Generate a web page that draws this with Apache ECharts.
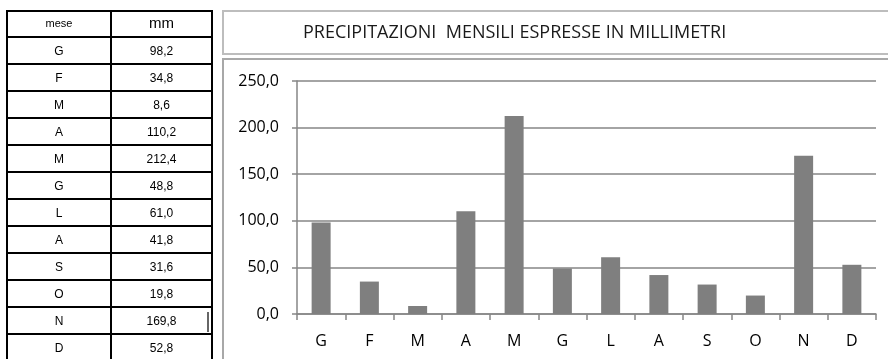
<!DOCTYPE html>
<html>
<head>
<meta charset="utf-8">
<script src="https://cdn.jsdelivr.net/npm/echarts@6/dist/echarts.min.js"></script>
<style>
  html, body { margin: 0; padding: 0; background: #fff; }
  #chart { width: 888px; height: 359px; }
</style>
</head>
<body>
<div id="chart"></div>
<script>
// Monthly rainfall (mm)
const mesi = ['G', 'F', 'M', 'A', 'M', 'G', 'L', 'A', 'S', 'O', 'N', 'D'];
const mm = [98.2, 34.8, 8.6, 110.2, 212.4, 48.8, 61.0, 41.8, 31.6, 19.8, 169.8, 52.8];
const tableHeader = ['mese', 'mm'];
const chartTitle = 'PRECIPITAZIONI  MENSILI ESPRESSE IN MILLIMETRI';

const fmt = v => v.toFixed(1).replace('.', ',');

// Spreadsheet-style table on the left
const tX0 = 7, tX1 = 111, tX2 = 212, tY0 = 11, headH = 26, rowH = 27;
const tableEls = [];
const lastY = tY0 + headH + mesi.length * rowH;
// horizontal rules
for (let i = 0; i <= mesi.length + 1; i++) {
  const y = i === 0 ? tY0 : tY0 + headH + (i - 1) * rowH;
  tableEls.push({ type: 'line', shape: { x1: tX0, y1: y, x2: tX2, y2: y },
    style: { stroke: '#000', lineWidth: 2 } });
}
// vertical rules
[tX0, tX1, tX2].forEach(x => tableEls.push({ type: 'line',
  shape: { x1: x, y1: tY0 - 1, x2: x, y2: lastY + 2 }, style: { stroke: '#000', lineWidth: 2 } }));
// header texts
tableEls.push({ type: 'text', x: (tX0 + tX1) / 2, y: tY0 + headH / 2,
  style: { text: tableHeader[0], fontFamily: 'Liberation Sans', fontSize: 11, fill: '#000', align: 'center', verticalAlign: 'middle' } });
tableEls.push({ type: 'text', x: (tX1 + tX2) / 2, y: tY0 + headH / 2,
  style: { text: tableHeader[1], fontFamily: 'Liberation Sans', fontSize: 15, fill: '#000', align: 'center', verticalAlign: 'middle' } });
// body texts
mesi.forEach((m, i) => {
  const cy = tY0 + headH + i * rowH + rowH / 2 + 1;
  tableEls.push({ type: 'text', x: (tX0 + tX1) / 2, y: cy,
    style: { text: m, fontFamily: 'Liberation Sans', fontSize: 12, fill: '#000', align: 'center', verticalAlign: 'middle' } });
  tableEls.push({ type: 'text', x: (tX1 + tX2) / 2, y: cy,
    style: { text: fmt(mm[i]), fontFamily: 'Liberation Sans', fontSize: 12, fill: '#000', align: 'center', verticalAlign: 'middle' } });
});
// cell cursor mark in the N row
tableEls.push({ type: 'line', shape: { x1: 208, y1: 312, x2: 208, y2: 332 },
  style: { stroke: '#333', lineWidth: 1.5 } });

// Title box and chart box frames
const frames = [
  { type: 'rect', shape: { x: 223, y: 11, width: 680, height: 43 },
    style: { fill: 'none', stroke: '#bdbdbd', lineWidth: 2 } },
  { type: 'rect', shape: { x: 223, y: 59, width: 680, height: 320 },
    style: { fill: 'none', stroke: '#a8a8a8', lineWidth: 2 } }
];

const chart = echarts.init(document.getElementById('chart'), null, { renderer: 'canvas' });
chart.setOption({
  animation: false,
  backgroundColor: '#fff',
  title: {
    text: chartTitle,
    left: 298, top: 19,
    textStyle: { fontFamily: 'Open Sans', fontSize: 18, fontWeight: 'normal', color: '#1a1a1a' }
  },
  graphic: { elements: tableEls.concat(frames) },
  grid: { left: 297, right: 12, top: 81, bottom: 45, containLabel: false },
  xAxis: {
    type: 'category',
    data: mesi,
    axisLine: { lineStyle: { color: '#868686', width: 1.5 } },
    axisTick: { show: true, length: 6, alignWithLabel: false, lineStyle: { color: '#868686', width: 1.5 } },
    axisLabel: { margin: 19, fontFamily: 'Open Sans', fontSize: 16, color: '#000' },
    splitLine: { show: false }
  },
  yAxis: {
    type: 'value',
    min: 0, max: 250, interval: 50,
    axisLine: { show: true, lineStyle: { color: '#868686', width: 1.5 } },
    axisTick: { show: true, length: 5, lineStyle: { color: '#868686', width: 1.5 } },
    axisLabel: { margin: 18, fontFamily: 'Open Sans', fontSize: 16, color: '#000', formatter: v => fmt(v) },
    splitLine: { show: true, lineStyle: { color: '#868686', width: 1.5 } }
  },
  series: [{
    type: 'bar',
    data: mm,
    barWidth: 19,
    itemStyle: { color: '#7f7f7f' },
    emphasis: { disabled: true }
  }]
});
</script>
</body>
</html>
